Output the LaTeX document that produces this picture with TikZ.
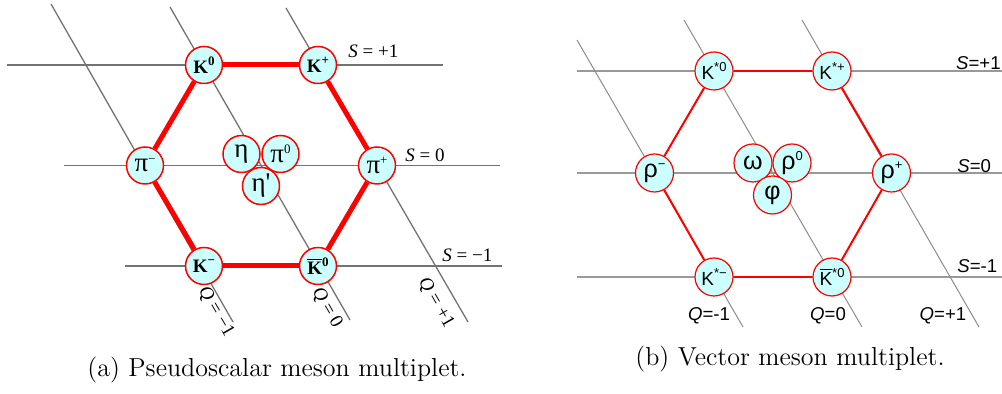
\documentclass[tikz,border=0pt]{standalone}
\usepackage{fontspec}
\newfontfamily\tms{Liberation Serif}
\newfontfamily\ars{Liberation Sans}
\definecolor{cyanfill}{HTML}{CCFFFF}
\definecolor{hexred}{HTML}{FF0000}
\newcommand\supL[1]{\raisebox{4.2pt}{\fontsize{6.5}{6.5}\selectfont #1}}
\newcommand\supR[1]{\raisebox{4.2pt}{\fontsize{6.5}{6.5}\selectfont #1}}
\newcommand\barK[1]{\ensuremath{\overline{\hbox{#1}}}}
\tikzset{
  lgray/.style={draw=black!55, line width=0.65pt},
  rgrayq/.style={draw=black!45, line width=0.5pt},
  rgrays/.style={draw=black!40, line width=0.8pt},
  lhex/.style={draw=hexred, line width=2.5pt},
  rhex/.style={draw=hexred, line width=1pt},
  lmes/.style={circle, draw=hexred, fill=cyanfill, line width=0.75pt, minimum size=18.5pt, inner sep=0pt},
  rmes/.style={circle, draw=hexred, fill=cyanfill, line width=0.6pt, minimum size=19pt, inner sep=0pt},
  lK/.style={font=\tms\bfseries\fontsize{9.5}{10}\selectfont},
  lG/.style={font=\tms\fontsize{13.5}{13.5}\selectfont},
  rK/.style={font=\ars\fontsize{9.5}{10}\selectfont},
  rG/.style={font=\ars\fontsize{12.5}{12.5}\selectfont},
  llab/.style={font=\tms\fontsize{9.5}{10}\selectfont, inner sep=0pt},
  rlab/.style={font=\ars\fontsize{9.3}{10}\selectfont, inner sep=0pt},
  capt/.style={font=\fontsize{13}{13}\selectfont, inner sep=0pt}
}
\begin{document}
\begin{tikzpicture}[x=0.5pt, y=-0.5pt]
\useasboundingbox (0,0) rectangle (1002,394);
% ---------------- left panel (a) ----------------
\draw[lgray] (7,65) -- (443,65);
\draw[lgray] (64,165.5) -- (500,165.5);
\draw[lgray] (125,266) -- (502,266);
\draw[lgray] (51,4) -- (233,322);
\draw[lgray] (170,7) -- (350,320);
\draw[lgray] (286,8) -- (468,322);
\node[llab, anchor=west] (s1a) at (348,51.5) {\textit{S} = +1};
\node[llab, anchor=west] (s0a) at (405,155) {\textit{S} = 0};
\node[llab, anchor=west] (sm1a) at (442,255) {\textit{S} = −1};
\node[llab, rotate=-60] (qm1a) at (216,312) {\textit{Q} = −1};
\node[llab, rotate=-60] (q0a) at (327,308) {\textit{Q} = 0};
\node[llab, rotate=-60] (qp1a) at (436,303) {\textit{Q} = +1};

\node[lmes, lK] (K0) at (204,65) {K\supL{0}};
\node[lmes, lK] (Kp) at (318,65) {K\supL{+}};
\node[lmes, lG] (pip) at (377,165.5) {π\supL{+}};
\node[lmes, lK] (aK0) at (318,266) {\barK{K}\supL{0}};
\node[lmes, lK] (Km) at (204,266) {K\supL{−}};
\node[lmes, lG] (pim) at (145,165.5) {π\supL{−}};
\draw[lhex] (K0) -- (Kp);
\draw[lhex] (Kp) -- (pip);
\draw[lhex] (pip) -- (aK0);
\draw[lhex] (aK0) -- (Km);
\draw[lhex] (Km) -- (pim);
\draw[lhex] (pim) -- (K0);
\node[lmes, lG] (eta) at (241.5,154) {η};
\node[lmes, lG] (pi0) at (280.5,154) {π\supL{0}};
\node[lmes, lG] (etap) at (261,186) {η\textquotesingle};

\node[capt, anchor=base west] (capa) at (87,377) {(a) Pseudoscalar meson multiplet.};

% ---------------- right panel (b) ----------------
\draw[rgrays] (577,71) -- (1002,71);
\draw[rgrays] (577,173) -- (1002,173);
\draw[rgrays] (577,277) -- (1002,277);
\draw[rgrayq] (577,40) -- (743,327);
\draw[rgrayq] (684,20) -- (862,327);
\draw[rgrayq] (802,20) -- (979,327);
\node[rlab, anchor=east] (s1b) at (1001,63) {\textit{S}=+1};
\node[rlab, anchor=west] (s0b) at (957,166) {\textit{S}=0};
\node[rlab, anchor=west] (sm1b) at (957,266) {\textit{S}=-1};
\node[rlab] (qm1b) at (709,316) {\textit{Q}=-1};
\node[rlab] (q0b) at (828,316) {\textit{Q}=0};
\node[rlab] (qp1b) at (943,316) {\textit{Q}=+1};

\node[rmes, rK] (Ks0) at (714,71) {K\supR{*0}};
\node[rmes, rK] (Ksp) at (832,71) {K\supR{*+}};
\node[rmes, rG] (rhop) at (891.5,173) {ρ\supR{+}};
\node[rmes, rK] (aKs0) at (832,277) {\barK{K}\supR{*0}};
\node[rmes, rK] (Ksm) at (714,277) {K\supR{*−}};
\node[rmes, rG] (rhom) at (654.5,173) {ρ\supR{−}};
\draw[rhex] (Ks0) -- (Ksp);
\draw[rhex] (Ksp) -- (rhop);
\draw[rhex] (rhop) -- (aKs0);
\draw[rhex] (aKs0) -- (Ksm);
\draw[rhex] (Ksm) -- (rhom);
\draw[rhex] (rhom) -- (Ks0);
\node[rmes, rG] (omega) at (753,163) {ω};
\node[rmes, rG] (rho0) at (792,163) {ρ\supR{0}};
\node[rmes, rG] (phi) at (772.5,195) {φ};

\node[capt, anchor=base west] (capb) at (635,366) {(b) Vector meson multiplet.};
\end{tikzpicture}
\end{document}
